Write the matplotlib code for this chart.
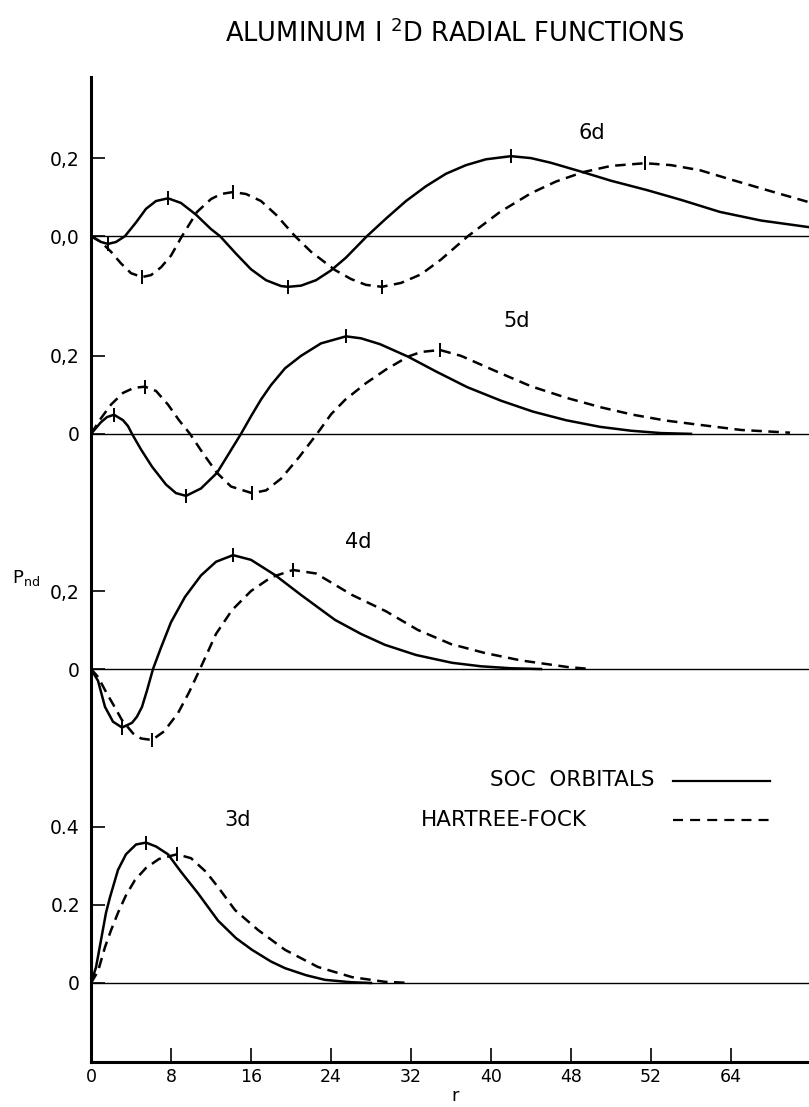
import matplotlib
matplotlib.use("Agg")
import matplotlib.pyplot as plt

# ---- values: r (bohr) and P_nd(r), one pair per curve ----
r_6d_soc = [0, 1, 1.7, 2.5, 3.4, 4.5, 5.5, 6.5, 7.7, 9, 10.5, 12, 12.9, 14.5, 16, 17.5, 19, 19.7,
            21, 22.5, 24, 25.5, 27.6, 29.5, 31.5, 33.5, 35.5, 37.5, 39.5, 42, 44, 46, 49.2, 52,
            55.6, 59, 62.9, 67, 71.8]
p_6d_soc = [0, -0.015, -0.02, -0.015, 0, 0.035, 0.07, 0.09, 0.097, 0.085, 0.055, 0.018, 0, -0.045,
            -0.085, -0.113, -0.128, -0.13, -0.127, -0.113, -0.088, -0.055, 0, 0.045, 0.09, 0.128,
            0.16, 0.182, 0.197, 0.205, 0.2, 0.188, 0.164, 0.142, 0.118, 0.093, 0.062, 0.04, 0.023]
r_6d_hf = [0, 1, 2, 3, 4, 5.1, 6, 7, 8, 9.1, 10.6, 12, 13, 14.2, 15.5, 17, 18.5, 20.4, 22, 24.4,
           26, 27.5, 29.1, 31, 33, 35, 37.7, 40.9, 44, 46.5, 49.2, 52, 55.4, 58, 60.9, 64, 68, 71.8]
p_6d_hf = [0, -0.015, -0.04, -0.07, -0.095, -0.105, -0.1, -0.08, -0.05, 0, 0.062, 0.095, 0.108,
           0.113, 0.108, 0.09, 0.055, 0, -0.04, -0.087, -0.11, -0.125, -0.13, -0.12, -0.098, -0.06,
           0, 0.062, 0.11, 0.14, 0.164, 0.18, 0.187, 0.182, 0.169, 0.145, 0.115, 0.087]

r_5d_soc = [0, 1, 1.6, 2.3, 3.2, 3.7, 4.1, 5, 6.1, 7.5, 8.5, 9.5, 11, 12.6, 13.8, 15, 16, 17, 18,
            19.4, 21, 23, 25.5, 27, 28.9, 31.7, 34.5, 37.6, 41, 44.2, 47.5, 50.9, 54, 57, 60]
p_5d_soc = [0, 0.03, 0.043, 0.049, 0.035, 0.02, 0, -0.04, -0.084, -0.13, -0.152, -0.159, -0.14,
            -0.1, -0.05, 0, 0.045, 0.088, 0.125, 0.168, 0.2, 0.232, 0.25, 0.245, 0.23, 0.198,
            0.16, 0.12, 0.085, 0.057, 0.035, 0.018, 0.008, 0.002, 0]
r_5d_hf = [0, 1, 2, 3.2, 4.3, 5.4, 6.5, 7.7, 8.8, 9.9, 11.2, 12.6, 14, 16.1, 17.5, 19, 20.8, 22.6,
           24, 25.4, 27.5, 29.5, 31.7, 33, 34.9, 37, 40.9, 44, 47.6, 51, 54.2, 57.5, 60.9, 65, 69.9]
p_5d_hf = [0, 0.04, 0.075, 0.105, 0.118, 0.121, 0.11, 0.075, 0.035, 0, -0.05, -0.1, -0.135, -0.152,
           -0.145, -0.115, -0.06, 0, 0.05, 0.087, 0.13, 0.165, 0.198, 0.21, 0.215, 0.2, 0.156,
           0.122, 0.092, 0.068, 0.049, 0.034, 0.023, 0.01, 0.003]

r_4d_soc = [0, 0.7, 1.4, 2.2, 3.1, 4.1, 4.6, 5.1, 5.6, 6.2, 7, 8, 9.4, 11, 12.5, 14.2, 16, 18.4,
            21, 24.4, 27, 29.4, 32.5, 36.1, 39, 42, 45]
p_4d_soc = [0, -0.03, -0.097, -0.135, -0.15, -0.138, -0.122, -0.097, -0.055, 0, 0.055, 0.12,
            0.185, 0.24, 0.275, 0.292, 0.28, 0.241, 0.19, 0.126, 0.09, 0.062, 0.036, 0.016,
            0.007, 0.002, 0]
r_4d_hf = [0, 0.7, 1.4, 2.2, 3.1, 4.2, 5, 6.1, 7.3, 8.7, 9.8, 10.9, 12.5, 14.1, 16, 18, 20.2, 22.5,
           26.1, 29.5, 32.7, 36, 39.4, 43, 47.7, 50]
p_4d_hf = [0, -0.02, -0.054, -0.09, -0.131, -0.165, -0.178, -0.182, -0.16, -0.113, -0.06, 0, 0.09,
           0.151, 0.2, 0.235, 0.254, 0.245, 0.19, 0.148, 0.1, 0.064, 0.041, 0.022, 0.005, 0]

r_3d_soc = [0, 0.5, 1, 1.5, 1.9, 2.7, 3.5, 4.5, 5.5, 6.5, 7.7, 9, 10.7, 12.7, 14.5, 16.1, 18, 19.4,
            21.5, 23.4, 26, 28]
p_3d_soc = [0, 0.04, 0.11, 0.18, 0.22, 0.29, 0.33, 0.355, 0.36, 0.35, 0.33, 0.285, 0.23, 0.16,
            0.115, 0.085, 0.055, 0.038, 0.02, 0.008, 0.002, 0]
r_3d_hf = [0, 0.7, 1.4, 2, 2.7, 3.5, 4.4, 5.5, 6.8, 8.6, 10, 11.5, 12.7, 14.4, 16.7, 19.4, 22.7,
           26.1, 29.4, 32]
p_3d_hf = [0, 0.03, 0.092, 0.135, 0.18, 0.225, 0.264, 0.295, 0.318, 0.33, 0.32, 0.285, 0.246,
           0.187, 0.136, 0.085, 0.041, 0.015, 0.003, 0]

# r of the extrema that carry a small tick mark on the original
marks_6d_soc = [1.7, 7.7, 19.7, 42]
marks_6d_hf = [5.1, 14.2, 29.1, 55.4]
marks_5d_soc = [2.3, 9.5, 25.5]
marks_5d_hf = [5.4, 16.1, 34.9]
marks_4d_soc = [3.1, 14.2]
marks_4d_hf = [6.1, 20.2]
marks_3d_soc = [5.5]
marks_3d_hf = [8.6]

x_ticks = [0, 8, 16, 24, 32, 40, 48, 56, 64]
x_tick_labels = ["0", "8", "16", "24", "32", "40", "48", "52", "64"]

# y tick values per panel and the way they are printed on the scan
y_ticks_6d = [0.2, 0.0]
y_labels_6d = ["0,2", "0,0"]
y_ticks_5d = [0.2, 0.0]
y_labels_5d = ["0,2", "0"]
y_ticks_4d = [0.2, 0.0]
y_labels_4d = ["0,2", "0"]
y_ticks_3d = [0.4, 0.2, 0.0]
y_labels_3d = ["0.4", "0.2", "0"]

# ---- layout: each panel is shifted up on one shared axis ----
OFFSET = {"6d": 1.915, "5d": 1.408, "4d": 0.805, "3d": 0.0}
W, H = 809, 1107
FONT = "DejaVu Sans"
LW = 1.8
DASH = (4.2, 2.6)

plt.rcParams["font.family"] = [FONT]
plt.rcParams["mathtext.fontset"] = "dejavusans"

fig = plt.figure(figsize=(W / 100, H / 100), dpi=100)
ax = fig.add_axes([91 / W, 1 - 1062 / H, (W - 91) / W, 985 / H])
ax.set_xlim(0, 71.8)
ax.set_ylim(-0.2026, 2.323)


def fx(px):
    return px / W


def fy(py):
    return 1 - py / H


panels = [
    ("6d", r_6d_soc, p_6d_soc, r_6d_hf, p_6d_hf, marks_6d_soc, marks_6d_hf),
    ("5d", r_5d_soc, p_5d_soc, r_5d_hf, p_5d_hf, marks_5d_soc, marks_5d_hf),
    ("4d", r_4d_soc, p_4d_soc, r_4d_hf, p_4d_hf, marks_4d_soc, marks_4d_hf),
    ("3d", r_3d_soc, p_3d_soc, r_3d_hf, p_3d_hf, marks_3d_soc, marks_3d_hf),
]

for name, rs, ps, rh, ph, ms, mh in panels:
    off = OFFSET[name]
    ax.axhline(off, color="black", lw=1.0, zorder=1)
    ax.plot(rs, [p + off for p in ps], color="black", lw=LW, solid_joinstyle="round", zorder=3)
    ax.plot(rh, [p + off for p in ph], color="black", lw=LW, dashes=DASH, zorder=3)
    ax.plot(ms, [ps[rs.index(m)] + off for m in ms], ls="none", marker="|",
            ms=10, mew=1.4, color="black", zorder=4)
    ax.plot(mh, [ph[rh.index(m)] + off for m in mh], ls="none", marker="|",
            ms=10, mew=1.4, color="black", zorder=4)

yt, yl = [], []
for name, vals, labs in [("6d", y_ticks_6d, y_labels_6d), ("5d", y_ticks_5d, y_labels_5d),
                         ("4d", y_ticks_4d, y_labels_4d), ("3d", y_ticks_3d, y_labels_3d)]:
    yt += [v + OFFSET[name] for v in vals]
    yl += labs
ax.set_yticks(yt)
ax.set_yticklabels(yl)
ax.set_xticks(x_ticks)
ax.set_xticklabels(x_tick_labels)

for s in ["top", "right"]:
    ax.spines[s].set_visible(False)
for s in ["left", "bottom"]:
    ax.spines[s].set_linewidth(2.2)
ax.tick_params(axis="y", direction="in", length=10, width=1.2, pad=8, labelsize=13.5)
ax.tick_params(axis="x", direction="in", length=10, width=1.2, pad=4, labelsize=12.5)

# curve names
ax.text(50.1, OFFSET["6d"] + 0.265, "6d", fontsize=15, ha="center", va="center")
ax.text(42.6, OFFSET["5d"] + 0.29, "5d", fontsize=15, ha="center", va="center")
ax.text(26.7, OFFSET["4d"] + 0.325, "4d", fontsize=15, ha="center", va="center")
ax.text(14.7, OFFSET["3d"] + 0.418, "3d", fontsize=15, ha="center", va="center")

# key
fig.text(fx(655), fy(780), "SOC  ORBITALS", fontsize=15.5, ha="right", va="center")
fig.text(fx(587), fy(820), "HARTREE-FOCK", fontsize=15.5, ha="right", va="center")
fig.add_artist(plt.Line2D([fx(673), fx(770)], [fy(781), fy(781)], color="black", lw=1.6))
fig.add_artist(plt.Line2D([fx(673), fx(772)], [fy(820), fy(820)], color="black", lw=1.6,
                          dashes=(4.5, 3.2)))

fig.text(fx(455), fy(34), r"ALUMINUM I $^{\mathregular{2}}$D RADIAL FUNCTIONS",
         fontsize=18.5, ha="center", va="center")
fig.text(fx(26), fy(578), r"$\mathregular{P_{nd}}$", fontsize=13, ha="center", va="center")
fig.text(fx(455), fy(1105), "r", fontsize=13, ha="center", va="bottom")

fig.savefig("out.png", dpi=100)
